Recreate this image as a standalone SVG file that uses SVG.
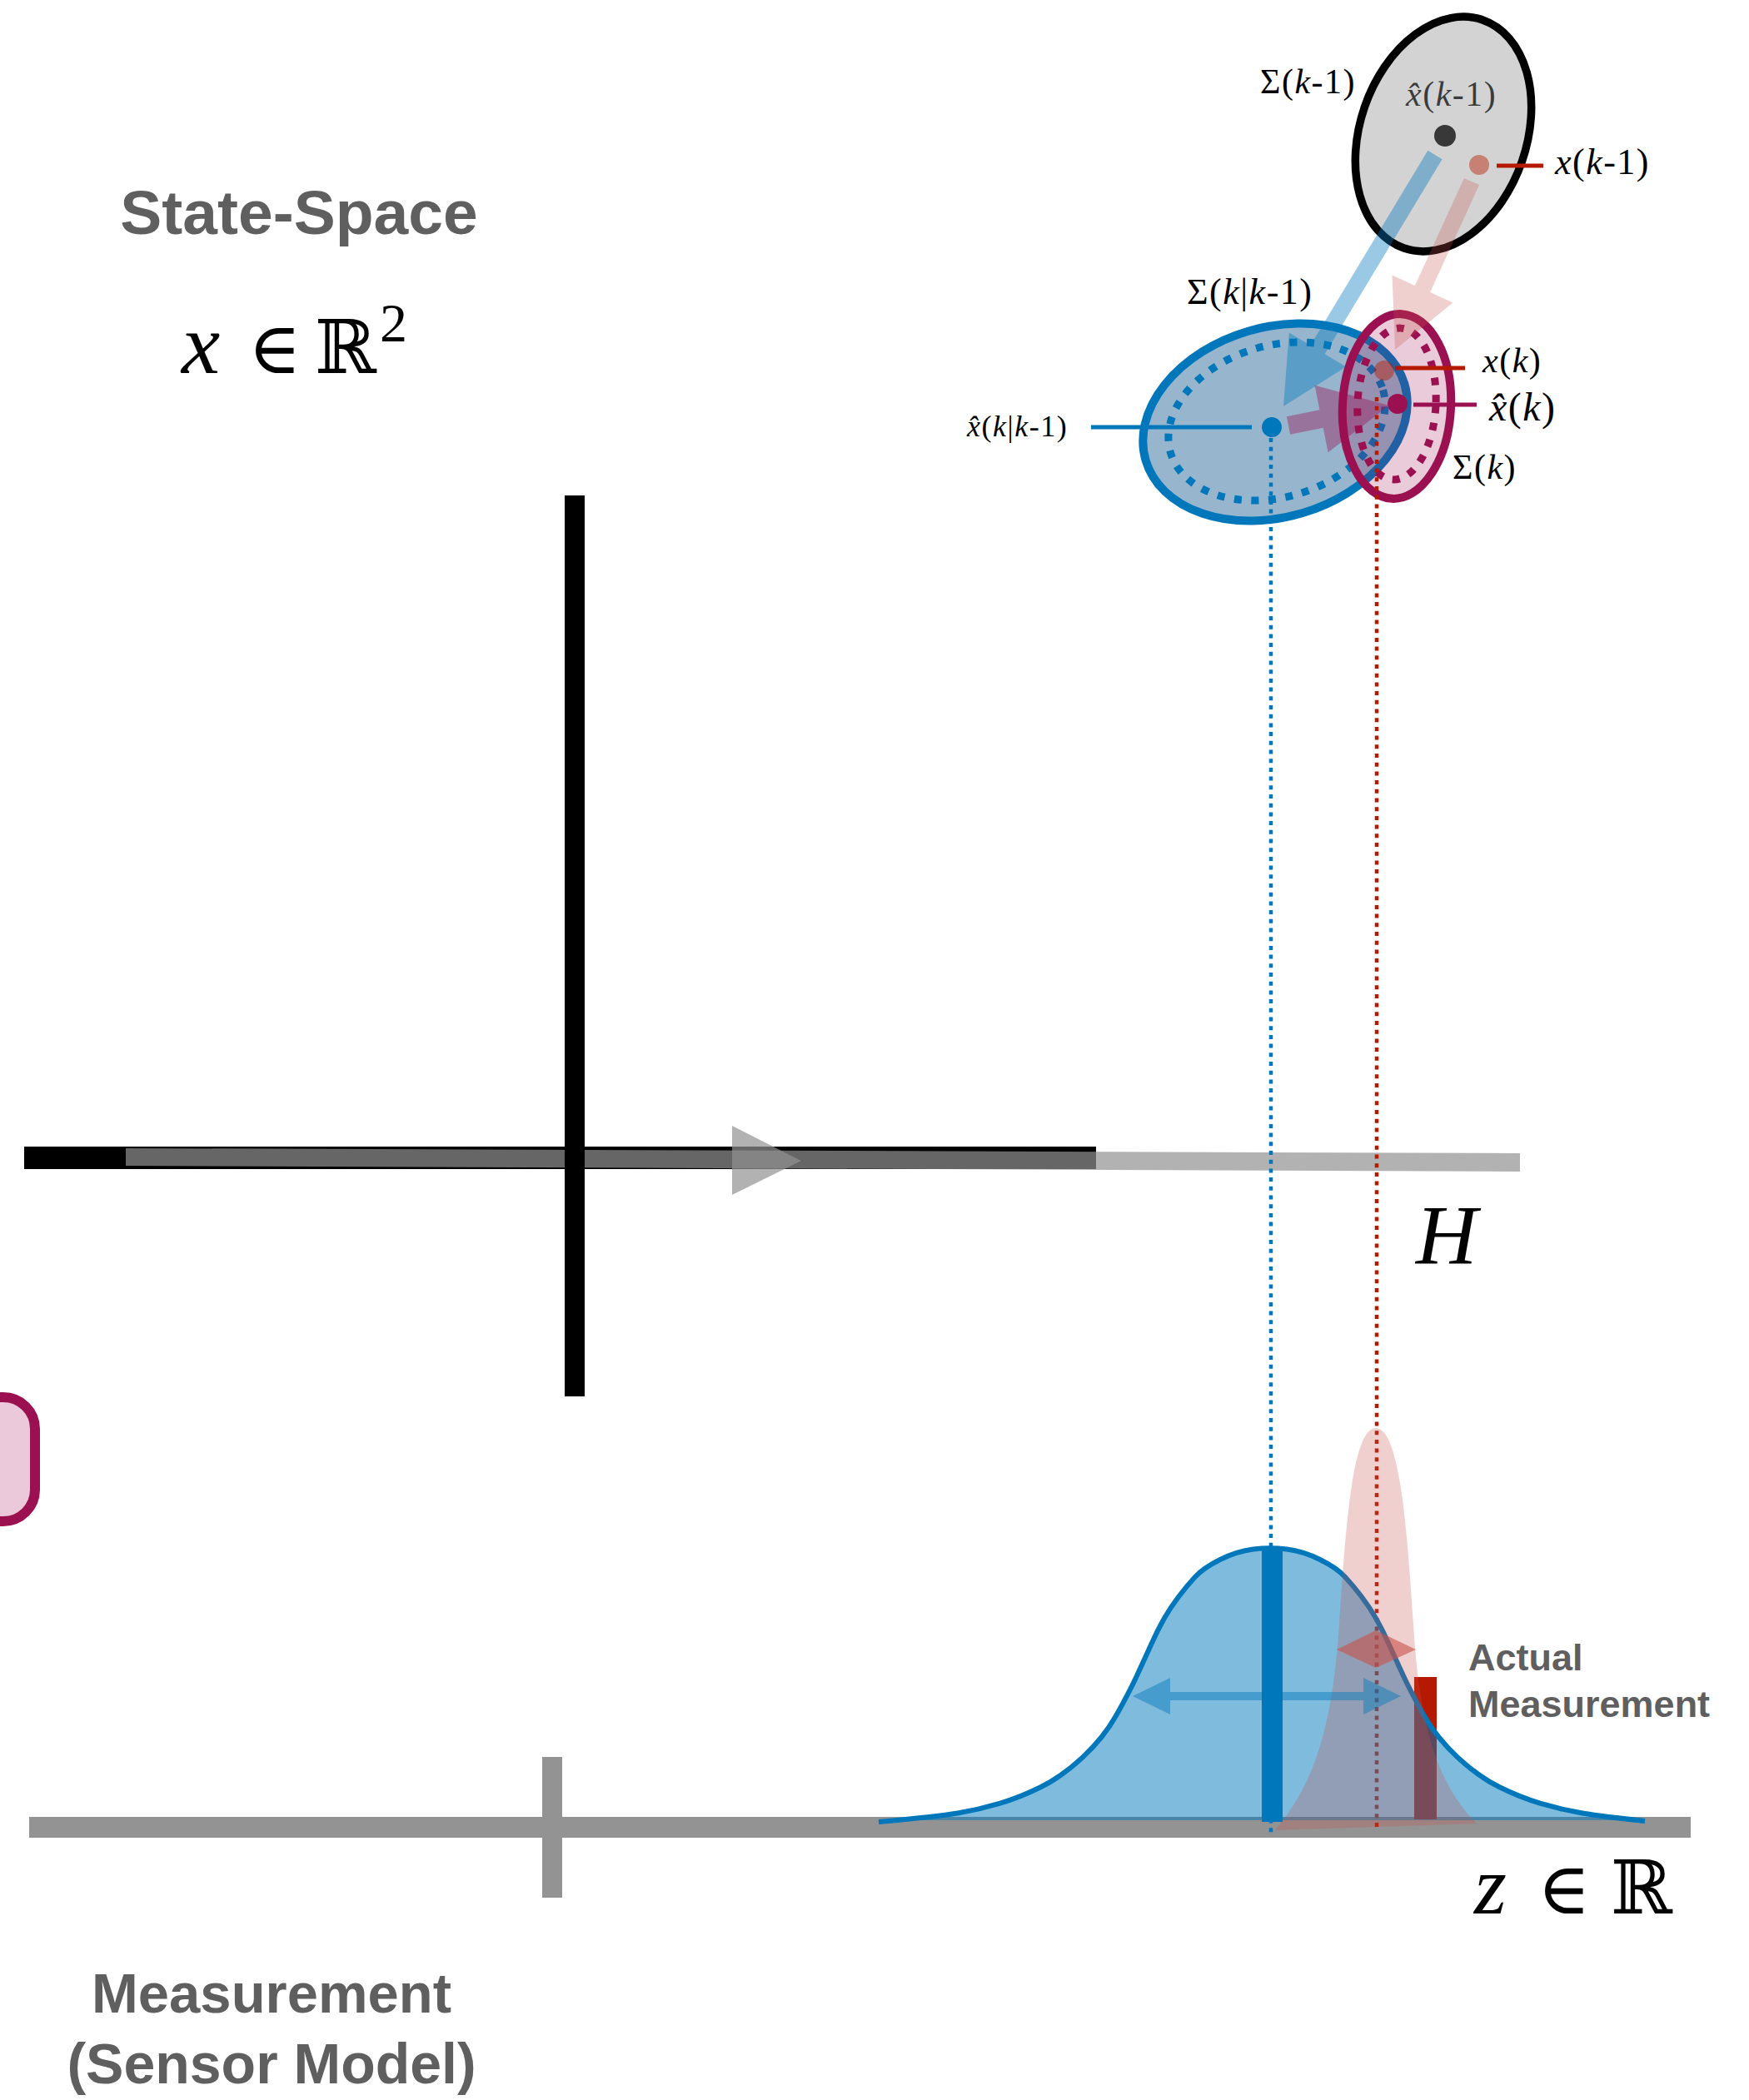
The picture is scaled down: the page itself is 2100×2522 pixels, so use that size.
<svg xmlns="http://www.w3.org/2000/svg" width="2100" height="2522" viewBox="0 0 2100 2522">
<style>
.title{font-family:"Liberation Sans",Arial,"Helvetica",sans-serif;font-weight:bold;fill:#5f5f5f}
.m{font-family:"Liberation Serif","Times New Roman",serif;fill:#000;letter-spacing:1.5px}
.i{font-style:italic}
.sym{font-family:"DejaVu Serif","Liberation Serif",serif;fill:#000}
.ln{stroke-width:5;fill:none}
.dotv{stroke-width:4.5;stroke-dasharray:5 5.7;fill:none}
.dotring{fill:none;stroke-width:9;stroke-dasharray:9 11.5}
</style>
<rect width="2100" height="2522" fill="#fff"/>

<g id="title-state-space">
<text class="title" x="359" y="281" font-size="75" text-anchor="middle">State-Space</text>
<text class="m i" x="218" y="448" font-size="104" style="letter-spacing:0">x</text>
<text class="sym" x="298" y="448" font-size="86">∈</text>
<text class="sym" x="378" y="448" font-size="89">ℝ</text>
<text class="m" x="456" y="410" font-size="66" style="letter-spacing:0">2</text>
</g>

<g id="title-measurement">
<text class="title" x="326" y="2417" font-size="67" text-anchor="middle">Measurement</text>
<text class="title" x="326" y="2502" font-size="68" text-anchor="middle">(Sensor Model)</text>
</g>

<g id="pink-box">
<rect x="-100" y="1678" width="142" height="149" rx="38" fill="#ecc9da" stroke="#9b1050" stroke-width="12"/>
</g>

<g id="projection-H">
<rect x="29" y="1377" width="1287" height="27" fill="#000"/>
<polygon points="151,1379 1825,1385 1825,1407 151,1400" fill="#929292" fill-opacity="0.7"/>
<polygon points="879,1352 962,1394 879,1435" fill="#929292" fill-opacity="0.7"/>
<rect x="678" y="595" width="24" height="1082" fill="#000"/>
<text class="m i" x="1700" y="1518" font-size="102" style="letter-spacing:0">H</text>
</g>

<g id="measurement-axis">
<rect x="35" y="2182" width="1995" height="25" fill="#939393"/>
<rect x="651" y="2110" width="24" height="169" fill="#939393"/>
<text class="m i" x="1770" y="2298" font-size="100" style="letter-spacing:0">z</text>
<text class="sym" x="1846" y="2298" font-size="86">∈</text>
<text class="sym" x="1934" y="2298" font-size="89">ℝ</text>
</g>

<g id="prior-state">
<ellipse cx="1733" cy="161" rx="100" ry="145" transform="rotate(19 1733 161)" fill="#d3d3d3" stroke="#000" stroke-width="9.5"/>
<circle cx="1735" cy="163" r="13" fill="#383838"/>
<circle cx="1776" cy="198" r="12" fill="#b51a00" fill-opacity="0.45"/>
<line class="ln" x1="1797" y1="199" x2="1853" y2="199" stroke="#b51a00"/>
<text class="m" x="1513" y="112" font-size="42">Σ(<tspan class="i">k</tspan>-1)</text>
<text class="m" x="1688" y="127" font-size="42" fill-opacity="0.72"><tspan class="i">x̂</tspan>(<tspan class="i">k</tspan>-1)</text>
<text class="m" x="1867" y="209" font-size="44"><tspan class="i">x</tspan>(<tspan class="i">k</tspan>-1)</text>
</g>

<g id="predicted-state">
<ellipse cx="1531" cy="507" rx="162" ry="114" transform="rotate(-16.5 1531 507)" fill="#97b6cd" stroke="#0077bb" stroke-width="10"/>
<ellipse class="dotring" cx="1533" cy="506" rx="133" ry="91" transform="rotate(-16.5 1533 506)" stroke="#0077bb"/>
<text class="m" x="1425" y="365" font-size="44">Σ(<tspan class="i">k</tspan>|<tspan class="i">k</tspan>-1)</text>
<line class="ln" x1="1310" y1="513" x2="1503" y2="513" stroke="#0077bb"/>
<text class="m" x="1161" y="524" font-size="36"><tspan class="i">x̂</tspan>(<tspan class="i">k</tspan>|<tspan class="i">k</tspan>-1)</text>
</g>

<g id="updated-state">
<ellipse cx="1677" cy="488" rx="65" ry="111" transform="rotate(3 1677 488)" fill="#9b1050" fill-opacity="0.22" stroke="#9b1050" stroke-width="10"/>
<ellipse class="dotring" cx="1677" cy="485" rx="47" ry="91" transform="rotate(3 1677 485)" stroke="#9b1050"/>
</g>

<g id="connectors">
<polygon points="1714.4,180.8 1573.4,414.8 1547.8,399.4 1541,488 1616.2,440.6 1590.6,425.2 1731.6,191.2" fill="#0077bb" fill-opacity="0.4"/>
<polygon points="1757.9,213.9 1698.9,342.9 1671.6,330.4 1675,420 1744.4,363.6 1717.1,351.1 1776.1,222.1" fill="#c8504a" fill-opacity="0.27"/>
<polygon points="1544.9,500.2 1584.5,492.2 1578.6,462.8 1668,487 1594.6,543.2 1588.7,513.8 1549.1,521.8" fill="#9b1050" fill-opacity="0.4"/>
<line class="dotv" x1="1526" y1="526" x2="1526" y2="2206" stroke="#0077bb"/>
<line class="dotv" x1="1653" y1="477" x2="1653" y2="2198" stroke="#b51a00"/>
</g>

<g id="state-points">
<circle cx="1527" cy="513" r="12" fill="#0077bb"/>
<circle cx="1662" cy="445" r="12" fill="#b51a00" fill-opacity="0.45"/>
<circle cx="1678" cy="485" r="12" fill="#9b1050"/>
<line class="ln" x1="1675" y1="442" x2="1759" y2="442" stroke="#b51a00"/>
<line class="ln" x1="1697" y1="486" x2="1773" y2="486" stroke="#9b1050"/>
<text class="m" x="1780" y="447" font-size="42"><tspan class="i">x</tspan>(<tspan class="i">k</tspan>)</text>
<text class="m" x="1788" y="505" font-size="48"><tspan class="i">x̂</tspan>(<tspan class="i">k</tspan>)</text>
<text class="m" x="1744" y="575" font-size="42">Σ(<tspan class="i">k</tspan>)</text>
</g>

<g id="measurement-distributions">
<rect x="1698" y="2014" width="27" height="171" fill="#b51a00"/>
<path d="M1055,2188 Q1125,2181.7 1150,2177.55 Q1175,2173.4 1200,2165.95 Q1225,2158.5 1250,2146.05 Q1275,2133.6 1300,2110.35 Q1325,2087.1 1340,2060.55 Q1355,2034 1365,2012.4 Q1375,1990.8 1382.5,1974.2 Q1390,1957.6 1397.5,1944.3 Q1405,1931 1415,1917.75 Q1425,1904.5 1435,1893.7 Q1445,1882.9 1465,1872.95 Q1485,1863 1505,1860.5 Q1525,1858 1545,1860.5 Q1565,1863 1585,1872.95 Q1605,1882.9 1615,1893.7 Q1625,1904.5 1635,1917.75 Q1645,1931 1652.5,1944.3 Q1660,1957.6 1667.5,1974.2 Q1675,1990.8 1685,2012.4 Q1695,2034 1710,2060.55 Q1725,2087.1 1750,2110.35 Q1775,2133.6 1800,2146.05 Q1825,2158.5 1850,2165.95 Q1875,2173.4 1900,2177.55 Q1925,2181.7 1975,2187 L1975,2186 L1055,2186 Z" fill="#0077bb" fill-opacity="0.5"/>
<path d="M1055,2188 Q1125,2181.7 1150,2177.55 Q1175,2173.4 1200,2165.95 Q1225,2158.5 1250,2146.05 Q1275,2133.6 1300,2110.35 Q1325,2087.1 1340,2060.55 Q1355,2034 1365,2012.4 Q1375,1990.8 1382.5,1974.2 Q1390,1957.6 1397.5,1944.3 Q1405,1931 1415,1917.75 Q1425,1904.5 1435,1893.7 Q1445,1882.9 1465,1872.95 Q1485,1863 1505,1860.5 Q1525,1858 1545,1860.5 Q1565,1863 1585,1872.95 Q1605,1882.9 1615,1893.7 Q1625,1904.5 1635,1917.75 Q1645,1931 1652.5,1944.3 Q1660,1957.6 1667.5,1974.2 Q1675,1990.8 1685,2012.4 Q1695,2034 1710,2060.55 Q1725,2087.1 1750,2110.35 Q1775,2133.6 1800,2146.05 Q1825,2158.5 1850,2165.95 Q1875,2173.4 1900,2177.55 Q1925,2181.7 1975,2187" fill="none" stroke="#0077bb" stroke-width="6"/>
<path d="M1531,2198 C1580,2140 1600,2070 1608,1950 C1615,1850 1622,1715 1652,1715 C1682,1715 1690,1850 1697,1950 C1704,2070 1724,2140 1773,2190 Z" fill="#c8504a" fill-opacity="0.27"/>
<polygon points="1360,2037 1405,2015 1405,2032 1637,2032 1637,2015 1682,2037 1637,2059 1637,2042 1405,2042 1405,2059" fill="#0077bb" fill-opacity="0.45"/>
<polygon points="1605,1981 1652,1958 1700,1981 1652,2003" fill="#c8504a" fill-opacity="0.6"/>
<rect x="1515" y="1857" width="25" height="331" fill="#0077bb"/>
<text class="title" x="1763" y="2006" font-size="45">Actual</text>
<text class="title" x="1763" y="2062" font-size="45">Measurement</text>
</g>
</svg>
